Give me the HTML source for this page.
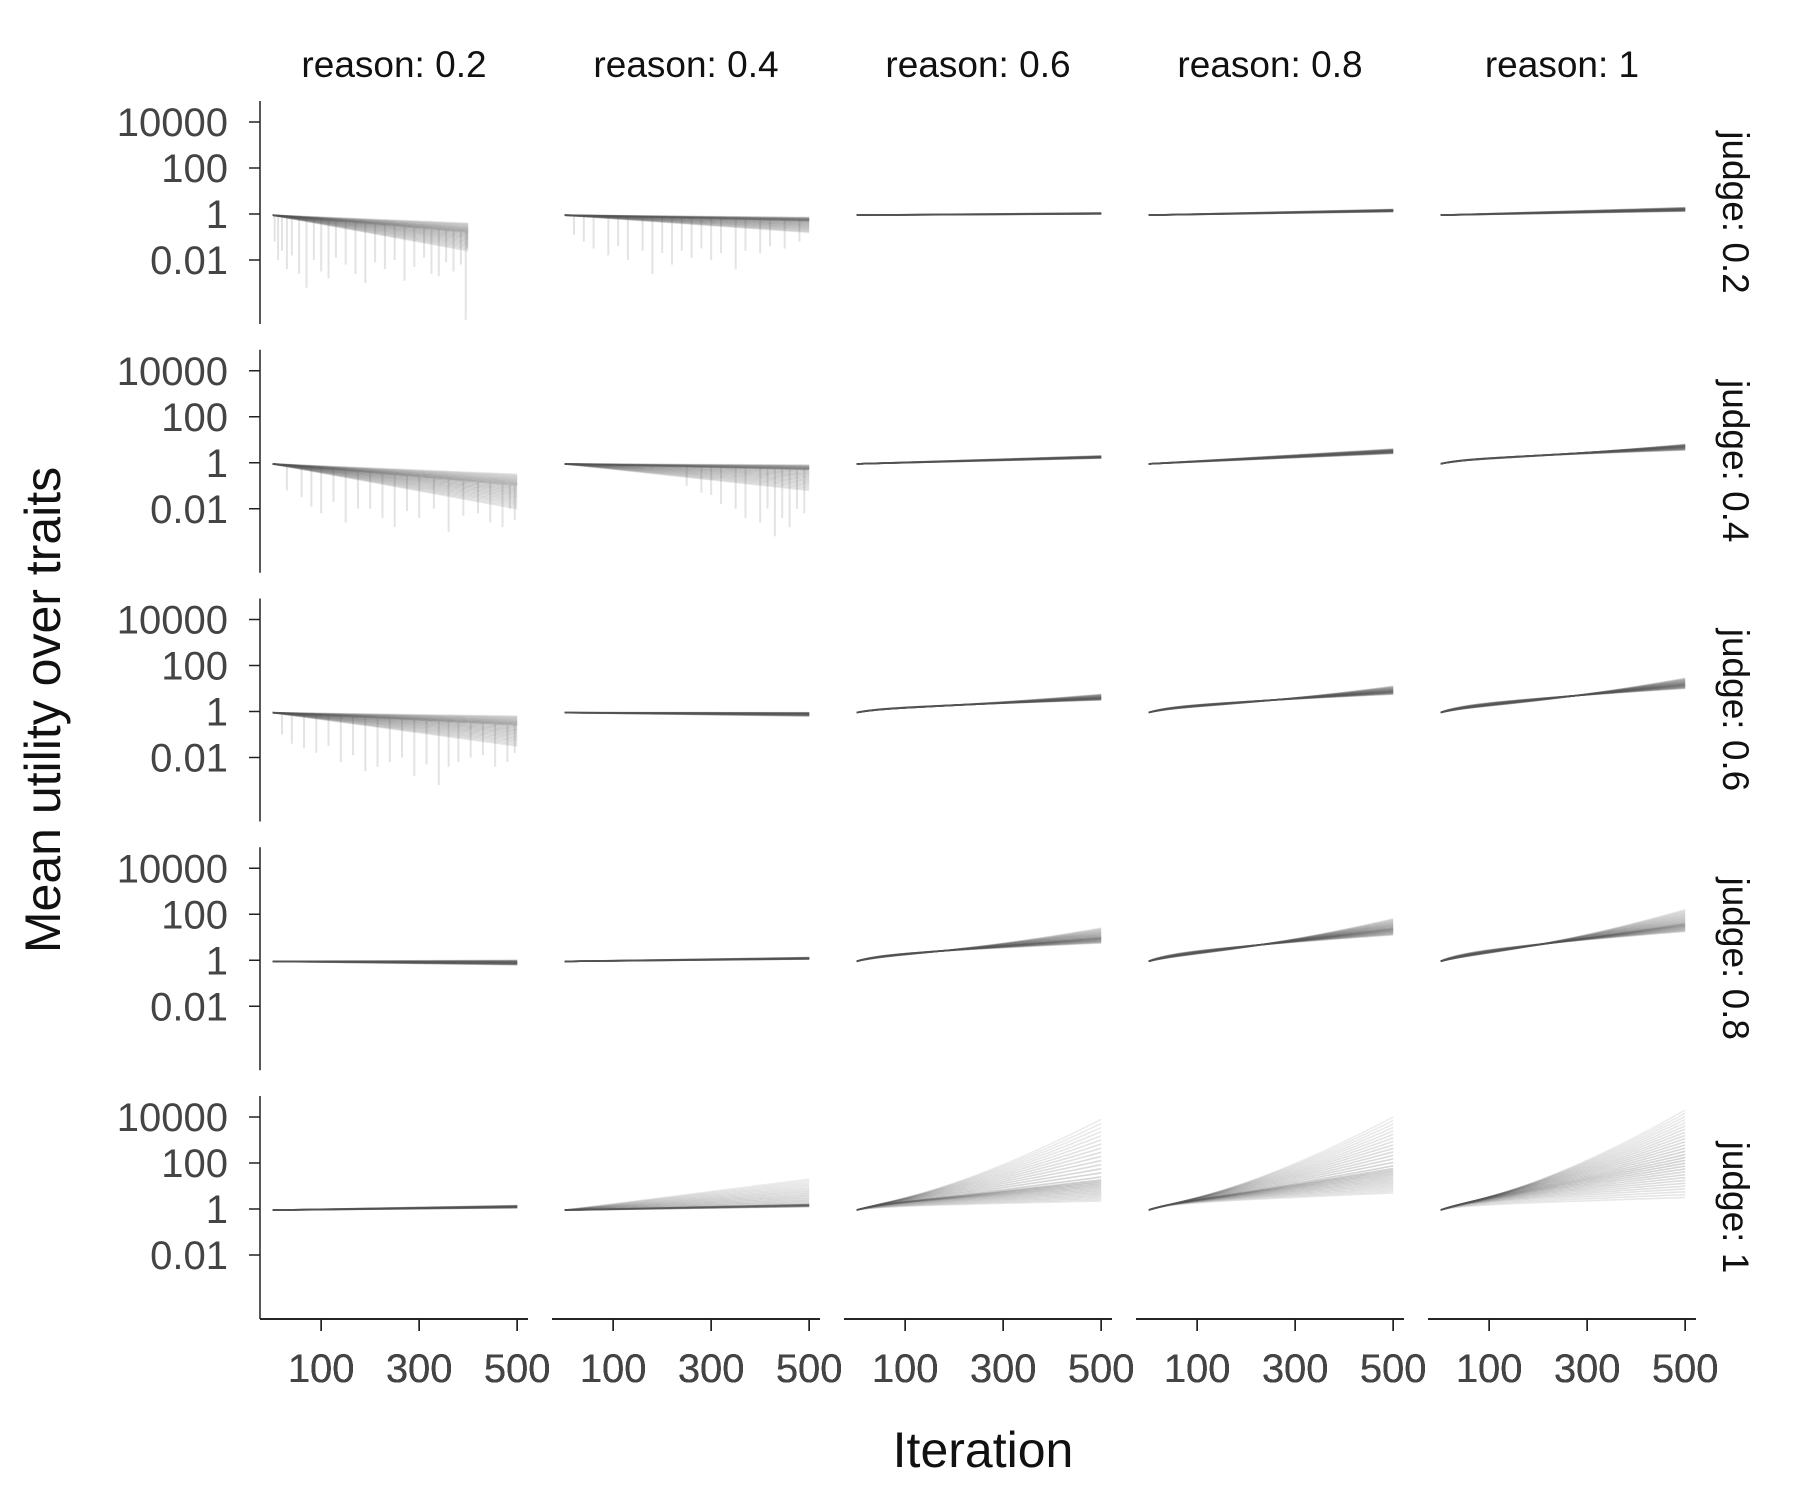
<!DOCTYPE html>
<html><head><meta charset="utf-8"><style>
html,body{margin:0;padding:0;background:#fff;}
svg{display:block;font-family:"Liberation Sans",sans-serif;}
</style></head><body>
<svg id="chart" width="1800" height="1500" viewBox="0 0 1800 1500"></svg>
<script>
const reasonLevels = ["0.2","0.4","0.6","0.8","1"];
const judgeLevels = ["0.2","0.4","0.6","0.8","1"];
const yTickValues = [10000,100,1,0.01];
const yTickLabels = ["10000","100","1","0.01"];
const xTickValues = [100,300,500];
const xTickLabels = ["100","300","500"];
// log10 of mean utility at the final iteration, [judge][reason]
const medianEndLog = [
  [-0.8,-0.3,0.02,0.15,0.2],
  [-1.0,-0.3,0.25,0.5,0.7],
  [-0.6,-0.1,0.6,0.9,1.2],
  [-0.1,0.08,1.0,1.4,1.6],
  [0.1,0.2,1.3,1.8,2.3]
];
const upperEndLog = [
  [-0.4,-0.15,0.05,0.2,0.28],
  [-0.5,-0.1,0.3,0.6,0.8],
  [-0.2,-0.05,0.75,1.1,1.45],
  [0.0,0.12,1.4,1.8,2.2],
  [0.15,1.3,3.9,4.0,4.3]
];
const lowerEndLog = [
  [-1.6,-0.8,0.0,0.1,0.12],
  [-2.0,-1.2,0.2,0.4,0.55],
  [-1.5,-0.2,0.5,0.75,1.0],
  [-0.2,0.05,0.75,1.1,1.25],
  [0.05,0.1,0.35,0.7,0.5]
];
const lastIter = [
  [400,500,500,500,500],
  [500,500,500,500,500],
  [500,500,500,500,500],
  [500,500,500,500,500],
  [500,500,500,500,500]
];
// downward excursions [iteration, log10 depth] for declining panels, key "judgeIdx-reasonIdx"
const spikes = {
  "0-0":[[5,-1.2],[12,-2.0],[20,-1.6],[30,-2.4],[40,-1.8],[55,-2.6],[70,-3.2],[85,-2.0],[100,-2.5],[115,-2.8],[130,-1.9],[150,-2.2],[170,-2.6],[190,-3.0],[210,-2.1],[230,-2.4],[250,-2.0],[270,-2.9],[290,-2.3],[310,-1.9],[325,-2.6],[340,-2.7],[355,-2.1],[370,-2.5],[385,-2.2],[395,-4.6],[398,-1.5]],
  "0-1":[[20,-0.9],[40,-1.2],[60,-1.5],[90,-1.8],[110,-1.4],[130,-2.0],[160,-1.6],[180,-2.6],[200,-1.7],[220,-2.2],[240,-1.6],[260,-1.9],[280,-1.5],[300,-2.0],[320,-1.7],[350,-2.4],[370,-1.6],[400,-1.7],[420,-1.4],[450,-1.5],[480,-1.2]],
  "1-0":[[30,-1.2],[60,-1.5],[80,-1.9],[100,-2.2],[125,-1.7],[150,-2.6],[175,-2.0],[200,-2.0],[225,-2.4],[250,-2.8],[275,-2.1],[300,-2.4],[330,-2.0],[360,-3.0],[390,-2.3],[420,-2.2],[445,-2.6],[470,-2.8],[485,-2.0],[495,-2.5]],
  "1-1":[[250,-1.0],[280,-1.3],[300,-1.4],[320,-1.8],[350,-2.0],[370,-2.4],[400,-2.6],[415,-2.0],[430,-3.2],[445,-2.4],[460,-2.8],[475,-2.0],[490,-2.2]],
  "2-0":[[20,-1.0],[40,-1.4],[65,-1.6],[90,-1.8],[115,-1.5],[140,-2.2],[165,-1.9],[190,-2.6],[215,-2.4],[240,-2.2],[265,-2.0],[290,-2.8],[315,-2.3],[340,-3.2],[360,-2.4],[380,-2.2],[405,-2.0],[430,-1.9],[455,-2.4],[480,-2.2],[495,-1.8]]
};

const NS="http://www.w3.org/2000/svg";
const svg=document.getElementById('chart');
function mk(tag,attrs,parent){const e=document.createElementNS(NS,tag);for(const k in attrs)e.setAttribute(k,attrs[k]);(parent||svg).appendChild(e);return e;}
const colX0=260, colStep=292, rowY0=101, rowStep=248.75, pH=223;
const xPerIter=0.49, xZeroOff=12.2;
const decadePx=23, oneOff=113;
function sx(c,it){return colX0+c*colStep+xZeroOff+it*xPerIter;}
function sy(r,lg){return rowY0+r*rowStep+oneOff-lg*decadePx;}
function ylog(v){return Math.log10(v);}

for(let r=0;r<5;r++){
  for(let c=0;c<5;c++){
    const g=mk('g',{});
    
    
    const end=lastIter[r][c], s=-0.05;
    const med=medianEndLog[r][c], up=upperEndLog[r][c], lo=lowerEndLog[r][c];
    const growth=med>0.5;
    const sp=spikes[r+'-'+c]||[];
    sp.forEach(([it,d])=>{
      const base=s+(med-s)*(it/end);
      const l=mk('line',{x1:sx(c,it),x2:sx(c,it),y1:sy(r,base),y2:sy(r,d),stroke:'#c8c8c8','stroke-width':2,'stroke-opacity':0.5},g);
      
      
    });
    const N=30;
    for(let k=0;k<N;k++){
      const f=k/(N-1);
      const endV= f<0.5 ? lo+(med-lo)*(f*2) : med+(up-med)*((f-0.5)*2);
      const p = growth ? 0.75+f*0.7 : 1;
      const jump = growth ? Math.min(0.18, (endV-s)*0.2) : 0;
      let pts=[];
      for(let it=1;it<=end;it+=8){
        const t=it/end;
        const e=1-Math.exp(-it/40);
        const v=s+jump*e+(endV-s-jump)*Math.pow(t,p);
        pts.push(sx(c,it).toFixed(1)+','+sy(r,v).toFixed(1));
      }
      pts.push(sx(c,end).toFixed(1)+','+sy(r,endV).toFixed(1));
      const op = 0.22*(1-Math.abs(f-0.45)*1.3)+0.05;
      const pl=mk('polyline',{points:pts.join(' '),fill:'none',stroke:'#555','stroke-width':1.6,'stroke-opacity':op.toFixed(2)},g);
      
      
    }
    const ax=mk('line',{x1:colX0+c*colStep,x2:colX0+c*colStep+268,y1:1319,y2:1319,stroke:'#222','stroke-width':1.5});
    
    
    xTickValues.forEach((v,i)=>{
      const x=sx(c,v);
      const t=mk('line',{x1:x,x2:x,y1:1319,y2:1331,stroke:'#222','stroke-width':1.5});
      
      
      const tx=mk('text',{x:x,y:1382,'text-anchor':'middle','font-size':40,fill:'#444'});
      tx.textContent=xTickLabels[i];
      
      
    });
  }
  const ya=mk('line',{x1:colX0,x2:colX0,y1:rowY0+r*rowStep,y2:rowY0+r*rowStep+pH,stroke:'#222','stroke-width':1.5});
  
  
  yTickValues.forEach((v,i)=>{
    const y=sy(r,ylog(v));
    const t=mk('line',{x1:colX0-11,x2:colX0,y1:y,y2:y,stroke:'#222','stroke-width':1.5});
    
    
    const tx=mk('text',{x:colX0-32,y:y+14,'text-anchor':'end','font-size':40,fill:'#444'});
    tx.textContent=yTickLabels[i];
    
    
  });
  const cy=rowY0+r*rowStep+pH/2;
  const st=mk('text',{x:1733,y:cy,'text-anchor':'middle','font-size':37,fill:'#111',transform:'rotate(90 1733 '+cy+')','dominant-baseline':'middle'});
  st.textContent='judge: '+judgeLevels[r];
  
  
}
for(let c=0;c<5;c++){
  const cx=colX0+c*colStep+134;
  const t=mk('text',{x:cx,y:77,'text-anchor':'middle','font-size':37,fill:'#111'});
  t.textContent='reason: '+reasonLevels[c];
  
  
}
const xt=mk('text',{x:983,y:1467,'text-anchor':'middle','font-size':50,fill:'#111'});
xt.textContent='Iteration';


const yt=mk('text',{x:60,y:710,'text-anchor':'middle','font-size':50,fill:'#111',transform:'rotate(-90 60 710)'});
yt.textContent='Mean utility over traits';


</script>
</body></html>
